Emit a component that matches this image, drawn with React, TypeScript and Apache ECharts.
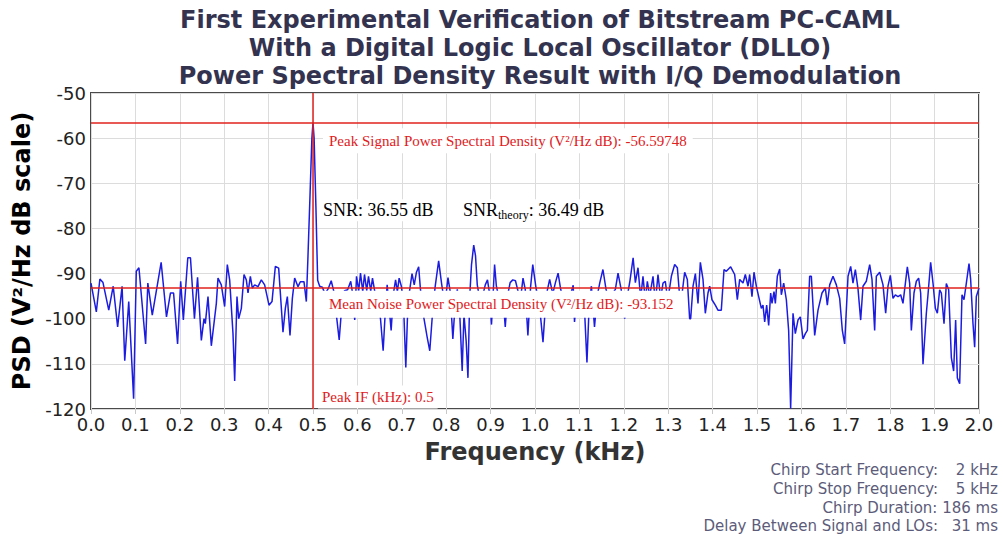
import React, { useEffect, useRef } from "react";
import * as echarts from "echarts";

const TITLE_LINES = [
  "First Experimental Verification of Bitstream PC-CAML",
  "With a Digital Logic Local Oscillator (DLLO)",
  "Power Spectral Density Result with I/Q Demodulation",
];

const X_TICKS = [0.0, 0.1, 0.2, 0.3, 0.4, 0.5, 0.6, 0.7, 0.8, 0.9, 1.0, 1.1, 1.2, 1.3, 1.4, 1.5, 1.6, 1.7, 1.8, 1.9, 2.0];
const Y_TICKS = [-120, -110, -100, -90, -80, -70, -60, -50];

const PEAK_IF = 0.5;
const PEAK_PSD = -56.59748;
const MEAN_NOISE = -93.152;

// Frequency (kHz) of trace vertices
const FREQ = [
  0.0, 0.012, 0.02, 0.027, 0.04, 0.05, 0.06, 0.07, 0.076, 0.085, 0.096, 0.102, 0.108, 0.123, 0.128, 0.138, 0.158, 0.17, 0.179, 0.186,
  0.195, 0.202, 0.208, 0.218, 0.224, 0.233, 0.24, 0.2485, 0.2545, 0.2575, 0.2635, 0.271, 0.2823, 0.286, 0.2935, 0.301, 0.307, 0.3123, 0.3198, 0.3236,
  0.3288, 0.3326, 0.3386, 0.3446, 0.3498, 0.3536, 0.3589, 0.3634, 0.3686, 0.3761, 0.3836, 0.3911, 0.4009, 0.4077, 0.4152, 0.4227, 0.4324, 0.4377, 0.4422, 0.4482,
  0.4535, 0.4587, 0.4662, 0.4715, 0.4797, 0.485, 0.4887, 0.4935, 0.4975, 0.5, 0.5025, 0.5065, 0.5105, 0.515, 0.521, 0.527, 0.534, 0.541, 0.547, 0.553,
  0.559, 0.565, 0.571, 0.578, 0.585, 0.59, 0.594, 0.598, 0.603, 0.607, 0.612, 0.616, 0.621, 0.625, 0.63, 0.634, 0.64, 0.645, 0.652, 0.658,
  0.663, 0.667, 0.672, 0.676, 0.681, 0.686, 0.69, 0.694, 0.699, 0.704, 0.709, 0.714, 0.718, 0.723, 0.728, 0.733, 0.738, 0.742, 0.75, 0.757,
  0.763, 0.769, 0.775, 0.783, 0.79, 0.797, 0.804, 0.809, 0.815, 0.82, 0.825, 0.831, 0.836, 0.84, 0.845, 0.849, 0.853, 0.857, 0.862, 0.866,
  0.87, 0.876, 0.882, 0.888, 0.893, 0.897, 0.902, 0.906, 0.909, 0.913, 0.92, 0.927, 0.933, 0.938, 0.944, 0.95, 0.956, 0.962, 0.967, 0.973,
  0.978, 0.984, 0.99, 0.995, 1.002, 1.01, 1.018, 1.025, 1.033, 1.04, 1.046, 1.052, 1.058, 1.065, 1.072, 1.079, 1.086, 1.089, 1.094, 1.1,
  1.106, 1.112, 1.117, 1.122, 1.127, 1.134, 1.14, 1.146, 1.153, 1.16, 1.167, 1.174, 1.181, 1.187, 1.194, 1.202, 1.208, 1.214, 1.221, 1.226,
  1.232, 1.238, 1.2432, 1.2485, 1.253, 1.2583, 1.2658, 1.271, 1.277, 1.283, 1.2883, 1.2935, 1.299, 1.3071, 1.3146, 1.3206, 1.3258, 1.3318, 1.3371, 1.3431,
  1.3483, 1.3506, 1.3559, 1.3612, 1.3671, 1.3724, 1.3784, 1.3836, 1.3896, 1.3934, 1.3986, 1.4061, 1.4121, 1.4196, 1.4257, 1.4309, 1.4407, 1.4497, 1.4557, 1.461,
  1.4685, 1.4737, 1.4797, 1.4835, 1.4887, 1.4932, 1.4985, 1.5038, 1.5098, 1.5135, 1.5173, 1.5218, 1.5263, 1.5308, 1.5338, 1.5383, 1.5413, 1.5458, 1.5511, 1.5548,
  1.5601, 1.5661, 1.5713, 1.5758, 1.5811, 1.5863, 1.5923, 1.5976, 1.6036, 1.6089, 1.6134, 1.6186, 1.6224, 1.6299, 1.6374, 1.6464, 1.6539, 1.6584, 1.6637, 1.6712,
  1.6787, 1.6862, 1.6922, 1.6974, 1.705, 1.711, 1.7162, 1.7215, 1.7275, 1.7335, 1.7387, 1.7462, 1.7538, 1.759, 1.765, 1.7688, 1.7763, 1.7838, 1.7898, 1.795,
  1.8003, 1.8063, 1.8116, 1.8176, 1.8236, 1.8288, 1.8386, 1.8438, 1.8476, 1.8536, 1.8589, 1.8641, 1.8686, 1.8739, 1.8814, 1.8851, 1.8911, 1.8964, 1.9017, 1.9062,
  1.9114, 1.9152, 1.9212, 1.9264, 1.9317, 1.9377, 1.9429, 1.9474, 1.9512, 1.9565, 1.9617, 1.9662, 1.9715, 1.9775, 1.9812, 1.9865, 1.9902, 1.994, 2.0,
];

// PSD (V²/Hz dB) at each vertex
const PSD = [
  -92.1, -98.5, -91.2, -92.0, -98.1, -92.8, -101.8, -92.8, -109.3, -96.2, -117.7, -89.5, -88.7, -105.6, -92.1, -99.2, -87.5, -99.6, -94.3, -94.3,
  -105.6, -91.7, -100.3, -86.5, -86.5, -100.0, -90.8, -104.8, -100.0, -101.1, -95.1, -106.0, -96.6, -91.0, -92.5, -97.3, -88.0, -91.4, -103.3, -113.8,
  -95.1, -100.0, -97.7, -90.2, -91.4, -94.3, -90.6, -93.2, -92.5, -92.9, -91.4, -92.5, -97.0, -96.2, -88.4, -88.8, -103.0, -97.7, -95.1, -103.7,
  -95.5, -91.0, -92.9, -91.8, -91.8, -96.2, -86.1, -72.0, -60.0, -56.6, -60.0, -75.0, -91.5, -92.8, -93.0, -94.5, -93.4, -91.6, -94.0, -99.5,
  -104.7, -97.0, -93.8, -93.6, -91.7, -95.0, -100.3, -90.6, -93.8, -89.9, -94.0, -90.2, -93.8, -90.6, -93.9, -91.0, -94.5, -96.0, -100.0, -107.1,
  -98.0, -92.5, -98.0, -102.6, -94.5, -91.4, -94.0, -91.0, -92.8, -97.0, -110.8, -96.0, -93.5, -90.0, -92.5, -89.7, -88.5, -93.5, -100.0, -104.0,
  -107.1, -99.0, -93.0, -87.2, -92.5, -97.0, -90.9, -94.0, -104.5, -97.0, -93.5, -100.0, -111.6, -99.0, -105.0, -113.1, -95.0, -88.0, -83.7, -86.0,
  -92.5, -96.0, -95.0, -92.5, -91.4, -94.0, -101.3, -94.0, -88.0, -92.8, -96.0, -94.0, -101.8, -95.0, -92.0, -91.4, -91.6, -94.0, -96.0, -91.0,
  -93.5, -103.7, -93.0, -88.0, -93.0, -97.0, -105.2, -95.0, -91.3, -94.5, -92.0, -89.9, -93.6, -96.0, -94.0, -95.0, -92.6, -100.7, -95.0, -96.5,
  -94.5, -99.0, -109.7, -97.0, -92.8, -101.8, -95.0, -92.0, -89.1, -93.5, -96.0, -94.5, -93.5, -89.9, -93.5, -100.0, -95.0, -91.5, -86.5, -92.0,
  -88.7, -95.5, -90.6, -96.0, -91.7, -95.0, -90.6, -96.5, -90.2, -95.5, -92.1, -91.7, -96.0, -90.6, -88.0, -88.7, -95.0, -94.0, -89.7, -91.3,
  -100.0, -100.0, -92.8, -90.0, -96.6, -87.5, -91.3, -98.8, -94.3, -92.8, -95.8, -97.0, -98.1, -98.1, -89.1, -89.5, -88.5, -90.2, -95.8, -91.3,
  -92.1, -90.2, -92.8, -90.2, -95.1, -89.7, -92.8, -95.1, -97.7, -97.0, -100.7, -97.0, -101.5, -94.3, -96.6, -94.0, -96.6, -90.6, -89.0, -94.7,
  -92.1, -95.8, -102.6, -119.9, -98.8, -103.3, -100.3, -99.6, -104.5, -103.3, -102.6, -90.6, -90.6, -103.7, -98.1, -94.3, -93.2, -97.0, -92.5, -90.6,
  -92.5, -95.5, -102.6, -105.6, -90.6, -88.4, -92.1, -89.1, -93.4, -100.3, -92.8, -91.7, -88.0, -91.3, -102.6, -90.6, -89.7, -92.5, -98.8, -92.8,
  -90.4, -95.5, -94.7, -95.1, -94.7, -96.6, -88.5, -92.1, -102.6, -94.3, -91.7, -91.0, -94.3, -110.1, -98.8, -94.7, -87.5, -92.1, -97.7, -98.8,
  -93.6, -94.3, -101.1, -92.2, -93.6, -108.6, -111.6, -100.3, -113.1, -114.4, -94.7, -95.8, -92.1, -87.8, -91.3, -101.1, -106.3, -95.1, -93.2,
];

const INFO_LABELS = ["Chirp Start Frequency:", "Chirp Stop Frequency:", "Chirp Duration:", "Delay Between Signal and LOs:"];
const INFO_VALUES = ["2 kHz", "5 kHz", "186 ms", "31 ms"];

const RED = "#e0201c";
const SERIF = "'Liberation Serif', 'Times New Roman', serif";
const SANS = "'DejaVu Sans', sans-serif";

export default function App() {
  const ref = useRef<HTMLDivElement>(null);

  useEffect(() => {
    if (!ref.current) return;
    const chart = echarts.init(ref.current, null, { renderer: "svg" });
    const data = FREQ.map((f, i) => [f, PSD[i]]);

    chart.setOption({
      animation: false,
      backgroundColor: "#ffffff",
      title: {
        text: TITLE_LINES.join("\n"),
        left: 535,
        top: 1,
        textAlign: "center",
        textStyle: {
          fontFamily: SANS,
          fontSize: 24,
          lineHeight: 28,
          fontWeight: "bold",
          color: "#33334f",
        },
      },
      grid: {
        left: 91,
        right: 24,
        top: 93,
        bottom: 126,
        show: true,
        borderColor: "#4a4a4a",
        borderWidth: 2,
        backgroundColor: "#ffffff",
      },
      xAxis: {
        type: "value",
        min: 0,
        max: 2,
        interval: 0.1,
        name: "Frequency (kHz)",
        nameLocation: "middle",
        nameGap: 31,
        nameTextStyle: { fontFamily: SANS, fontSize: 24, fontWeight: "bold", color: "#333333" },
        axisLine: { show: false },
        axisTick: { show: true, length: 5, lineStyle: { color: "#c8c8c8" } },
        splitLine: { show: true, lineStyle: { color: "#dcdcdc", width: 1 } },
        axisLabel: {
          fontFamily: SANS,
          fontSize: 18,
          color: "#222222",
          margin: 6,
          formatter: (v: number) => v.toFixed(1),
        },
      },
      yAxis: {
        type: "value",
        min: -120,
        max: -50,
        interval: 10,
        name: "PSD (V²/Hz dB scale)",
        nameLocation: "middle",
        nameGap: 50,
        nameTextStyle: { fontFamily: SANS, fontSize: 24, fontWeight: "bold", color: "#000000" },
        axisLine: { show: false },
        axisTick: { show: false },
        splitLine: { show: true, lineStyle: { color: "#dcdcdc", width: 1 } },
        axisLabel: { fontFamily: SANS, fontSize: 18, color: "#222222", margin: 5 },
      },
      series: [
        {
          type: "line",
          data,
          symbol: "none",
          z: 3,
          lineStyle: { color: "#1c1ce0", width: 1.5 },
          markLine: {
            silent: true,
            symbol: "none",
            label: { show: false },
            lineStyle: { color: RED, width: 1.5, type: "solid" },
            data: [{ xAxis: PEAK_IF }, { yAxis: PEAK_PSD }, { yAxis: MEAN_NOISE }],
          },
        },
      ],
    });

    const toPx = (x: number, y: number) => chart.convertToPixel({ gridIndex: 0 }, [x, y]) as number[];
    const [px05, pyPeak] = toPx(PEAK_IF, PEAK_PSD);
    const pyNoise = toPx(0, MEAN_NOISE)[1];
    const pyBottom = toPx(0, -120)[1];
    const pySnr = toPx(0, -76.0)[1];

    const redText = (text: string, x: number, y: number, pad: number[]) => ({
      type: "text",
      z: 100,
      x,
      y,
      style: {
        text,
        fill: RED,
        font: `15px ${SERIF}`,
        textVerticalAlign: "middle",
        backgroundColor: "#ffffff",
        padding: pad,
      },
    });

    const infoTop = 470;
    const infoStep = 18.8;
    const info: any[] = [];
    INFO_LABELS.forEach((lab, i) => {
      const y = infoTop + i * infoStep;
      const style = { fill: "#5c5c7a", font: `15px ${SANS}`, textAlign: "right", textVerticalAlign: "middle" };
      if (i === 2) {
        info.push({ type: "text", z: 100, x: 998, y, style: { ...style, text: `${lab} ${INFO_VALUES[i]}` } });
      } else {
        info.push({ type: "text", z: 100, x: 938, y, style: { ...style, text: lab } });
        info.push({ type: "text", z: 100, x: 998, y, style: { ...style, text: INFO_VALUES[i] } });
      }
    });

    chart.setOption({
      graphic: [
        redText("Peak Signal Power Spectral Density (V²/Hz dB): -56.59748", px05 + 10, pyPeak + 18, [5, 6, 5, 6]),
        redText("Mean Noise Power Spectral Density (V²/Hz dB): -93.152", px05 + 5, pyNoise + 16.5, [6, 11, 6, 11]),
        redText("Peak IF (kHz): 0.5", px05 + 5, pyBottom - 12, [4, 4, 4, 4]),
        {
          type: "text",
          z: 100,
          x: px05 + 10,
          y: pySnr,
          style: {
            text: "SNR: 36.55 dB",
            fill: "#000000",
            font: `18px ${SERIF}`,
            textVerticalAlign: "middle",
            backgroundColor: "#ffffff",
            padding: [2, 0, 2, 0],
          },
        },
        {
          type: "text",
          z: 100,
          x: px05 + 150,
          y: pySnr,
          style: {
            text: "{a|SNR}{b|theory}{a|: 36.49 dB}",
            textVerticalAlign: "middle",
            backgroundColor: "#ffffff",
            rich: {
              a: { fontFamily: SERIF, fontSize: 18, lineHeight: 22, fill: "#000000", color: "#000000" },
              b: {
                fontFamily: SERIF,
                fontSize: 12,
                lineHeight: 22,
                fill: "#000000",
                color: "#000000",
                verticalAlign: "bottom",
                padding: [8, 0, 0, 0],
              },
            },
          },
        },
        ...info,
      ],
    });

    return () => chart.dispose();
  }, []);

  return (
    <div
      ref={ref}
      style={{ position: "fixed", left: 0, top: 0, width: 1003, height: 535, background: "#ffffff" }}
    />
  );
}
